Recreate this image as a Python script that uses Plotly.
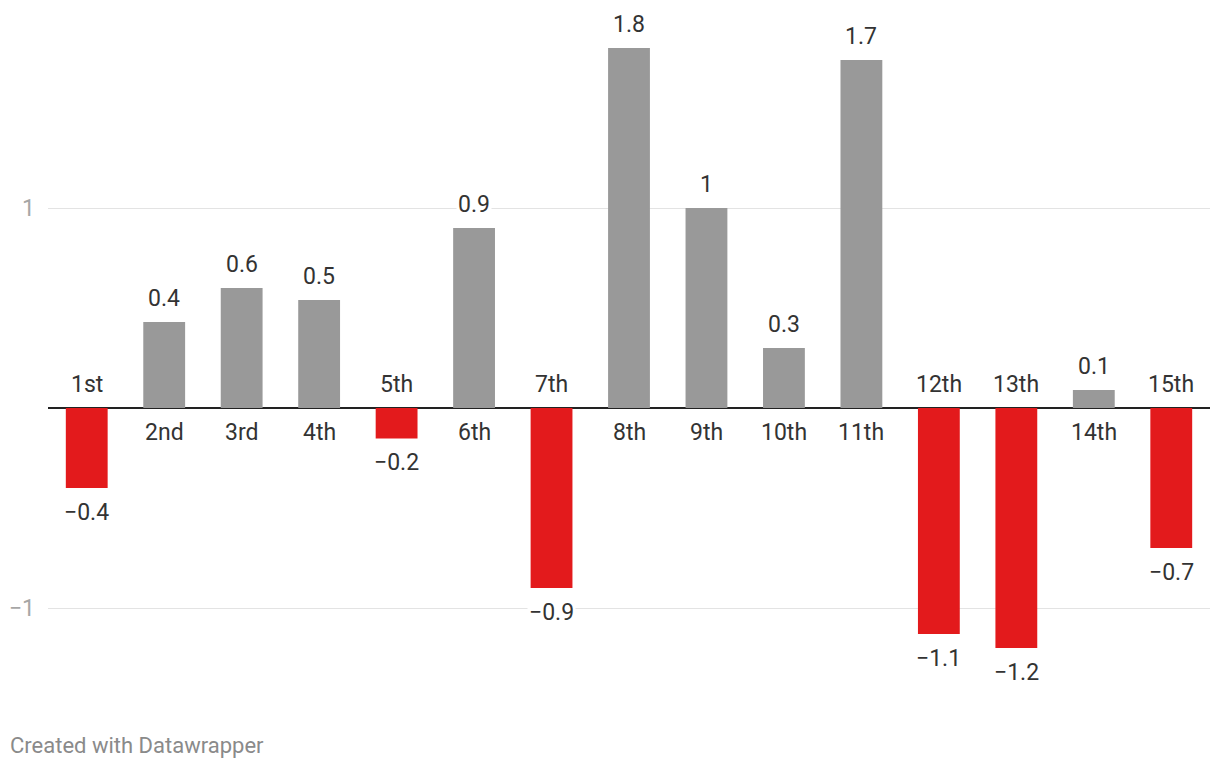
import plotly.graph_objects as go

categories = ["1st", "2nd", "3rd", "4th", "5th", "6th", "7th", "8th", "9th",
              "10th", "11th", "12th", "13th", "14th", "15th"]
values = [-0.40, 0.43, 0.60, 0.54, -0.152, 0.90, -0.90, 1.80, 1.00,
          0.30, 1.74, -1.13, -1.20, 0.09, -0.70]
y_ticks = [-1, 1]
y_tick_labels = ["\u22121", "1"]

POS_COLOR = "#999999"
NEG_COLOR = "#e31a1c"
TEXT_COLOR = "#333333"
FONT = "Roboto"
SIZE = 23


def fmt(v):
    s = f"{v:.1f}"
    if s.endswith(".0"):
        s = s[:-2]
    return s.replace("-", "\u2212")


colors = [POS_COLOR if v >= 0 else NEG_COLOR for v in values]

fig = go.Figure(go.Bar(
    x=categories, y=values, marker=dict(color=colors, line=dict(width=0)),
    hoverinfo="skip",
))

annotations = []
for c, v in zip(categories, values):
    pos = v >= 0
    annotations.append(dict(
        x=c, y=0, xref="x", yref="y", text=c, showarrow=False,
        yanchor="middle", yshift=-24 if pos else 24,
        font=dict(family=FONT, size=SIZE, color=TEXT_COLOR),
    ))
    annotations.append(dict(
        x=c, y=v, xref="x", yref="y", text=fmt(v), showarrow=False,
        yanchor="middle", yshift=24 if pos else -24,
        font=dict(family=FONT, size=SIZE, color=TEXT_COLOR),
        bgcolor="white",
    ))

annotations.append(dict(
    x=0, y=0, xref="paper", yref="paper", xanchor="left", yanchor="middle",
    text="Created with Datawrapper", showarrow=False,
    font=dict(family=FONT, size=22, color="#8a8a8a"),
    xshift=-40, yshift=-45,
))

fig.update_layout(
    width=1212, height=760,
    margin=dict(l=40, r=10, t=22, b=68),
    paper_bgcolor="white", plot_bgcolor="white",
    bargap=0.46,
    showlegend=False,
    font=dict(family=FONT, size=SIZE, color=TEXT_COLOR),
    xaxis=dict(showticklabels=False, showgrid=False, zeroline=False,
               showline=False, ticks="", range=[-0.5, 14.5]),
    yaxis=dict(range=[-1.46, 1.89], tickvals=y_ticks, ticktext=y_tick_labels,
               showgrid=True, gridcolor="#e3e3e3", gridwidth=1,
               zeroline=True, zerolinecolor="#222222", zerolinewidth=2,
               showline=False, ticks="", ticklabelstandoff=12,
               automargin=False,
               tickfont=dict(family=FONT, size=SIZE, color="#a6a6a6")),
    annotations=annotations,
)

fig.write_html("out.html")
